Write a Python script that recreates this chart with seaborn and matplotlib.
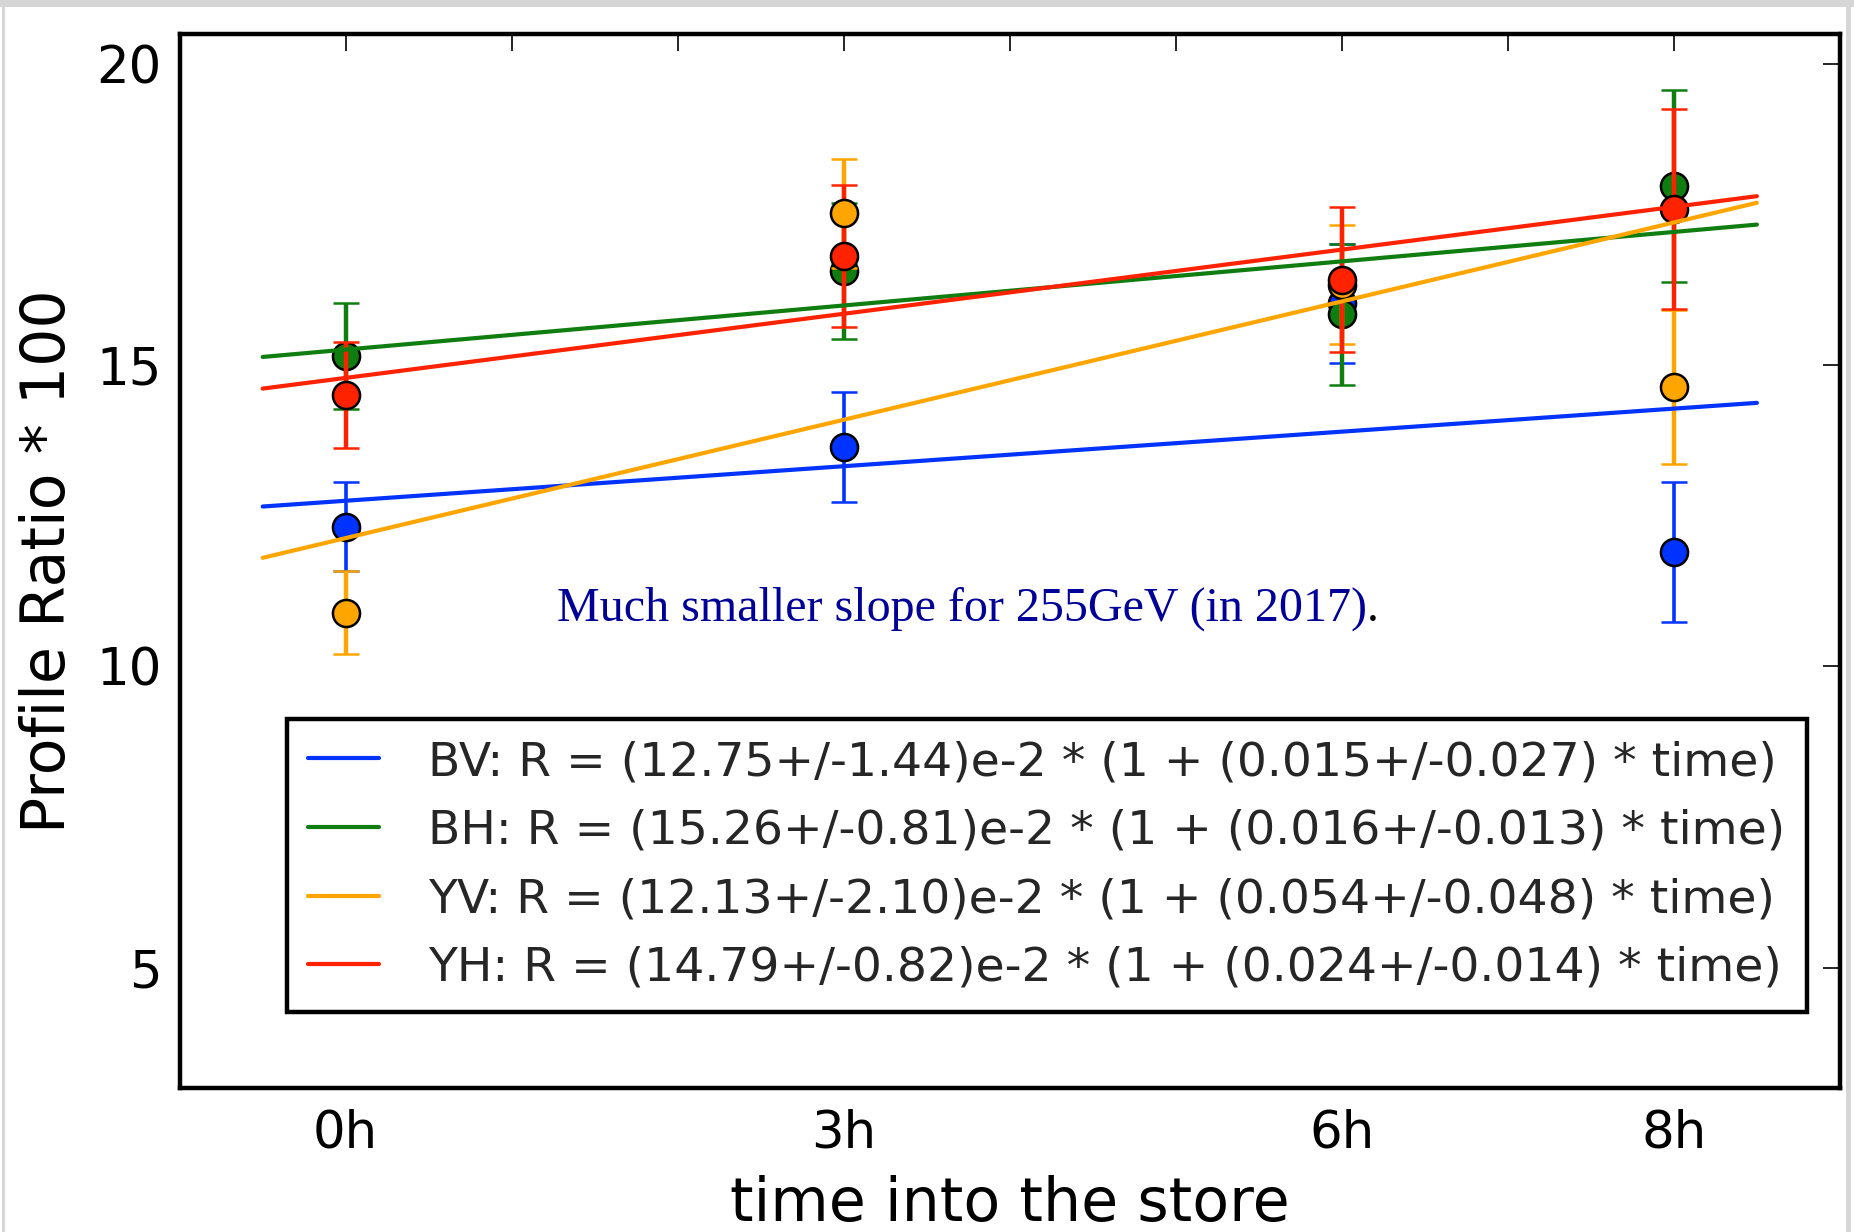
import numpy as np
import pandas as pd
import matplotlib
matplotlib.use('Agg')
import matplotlib.pyplot as plt
import seaborn as sns
from matplotlib.patches import Rectangle
from matplotlib.lines import Line2D

# ---------------- data ----------------
series = ['BV', 'BH', 'YV', 'YH']
times = [0, 3, 6, 8]
bv_vals = [12.32, 13.64, 16.03, 11.90]
bv_errs = [0.74, 0.91, 0.99, 1.16]
bh_vals = [15.16, 16.57, 15.85, 17.98]
bh_errs = [0.88, 1.13, 1.17, 1.59]
yv_vals = [10.89, 17.52, 16.34, 14.64]
yv_errs = [0.69, 0.91, 0.99, 1.28]
yh_vals = [14.51, 16.82, 16.42, 17.59]
yh_errs = [0.88, 1.18, 1.20, 1.66]

# fit parameters from the legend: R = a * (1 + b * time)
fit_a = [12.75, 15.26, 12.13, 14.79]
fit_b = [0.015, 0.016, 0.054, 0.024]
fit_range = [-0.5, 8.5]

legend_labels = [
    'BV: R = (12.75+/-1.44)e-2 * (1 + (0.015+/-0.027) * time)',
    'BH: R = (15.26+/-0.81)e-2 * (1 + (0.016+/-0.013) * time)',
    'YV: R = (12.13+/-2.10)e-2 * (1 + (0.054+/-0.048) * time)',
    'YH: R = (14.79+/-0.82)e-2 * (1 + (0.024+/-0.014) * time)',
]
xtick_positions = [0, 1, 2, 3, 4, 5, 6, 7, 8]
xtick_labels = ['0h', '', '', '3h', '', '', '6h', '', '8h']
ytick_values = [5, 10, 15, 20]
note_text = 'Much smaller slope for 255GeV (in 2017)'

vals = [bv_vals, bh_vals, yv_vals, yh_vals]
errs = [bv_errs, bh_errs, yv_errs, yh_errs]

# ---------------- style ----------------
sns.set_theme(style='white')
plt.rcParams['font.family'] = ['DejaVu Sans']
colors = ['#0033ff', '#0f7d0f', '#ffa500', '#ff2200']
elw = [2.6, 3.2, 3.2, 3.2]
capt = [2.2, 4.6, 4.6, 4.6]

fig = plt.figure(figsize=(18.54, 12.32), dpi=100)
fig.patch.set_facecolor('white')
ax = fig.add_axes([0.0969, 0.1169, 0.8955, 0.8555])
ax.set_facecolor('white')

# error bars with markers
for i, name in enumerate(series):
    ax.errorbar(times, vals[i], yerr=errs[i], fmt='o', color=colors[i],
                ecolor=colors[i], elinewidth=elw[i], capsize=9.5,
                capthick=capt[i], markersize=19.5, markeredgecolor='black',
                markeredgewidth=1.8, zorder=2 + i * 0.1)

# fit lines
rows = []
for i, name in enumerate(series):
    for t in fit_range:
        rows.append({'series': legend_labels[i], 't': t,
                     'R': fit_a[i] * (1 + fit_b[i] * t)})
fit_df = pd.DataFrame(rows)
sns.lineplot(data=fit_df, x='t', y='R', hue='series',
             palette=dict(zip(legend_labels, colors)), linewidth=3.0,
             ax=ax, zorder=3, legend=False)

# axes
ax.set_xlim(-1, 9)
ax.set_ylim(3, 20.5)
ax.set_xticks(xtick_positions)
ax.set_xticklabels(xtick_labels)
ax.set_yticks(ytick_values)
ax.tick_params(axis='both', which='major', direction='in', length=12,
               width=1.2, color='black', labelsize=37, top=True, right=True,
               labelcolor='black')
ax.tick_params(axis='x', pad=15)
ax.tick_params(axis='y', pad=13)
for sp in ax.spines.values():
    sp.set_visible(True)
    sp.set_color('black')
    sp.set_linewidth(3.2)
ax.grid(False)
ax.set_xlabel('time into the store', fontsize=43.3, color='black', labelpad=12)
ax.set_ylabel('Profile Ratio * 100', fontsize=43.3, color='black', labelpad=13)

# legend
handles = [Line2D([0], [0], color=c, linewidth=3.0) for c in colors]
leg = ax.legend(handles, legend_labels, loc='lower right',
                bbox_to_anchor=(0.980, 0.072), borderaxespad=0,
                fontsize=34, frameon=True, fancybox=False, framealpha=1,
                edgecolor='black', handlelength=1.5, handletextpad=1.05,
                labelspacing=0.5, borderpad=0.45)
leg.get_frame().set_linewidth(3.2)

# note text
t = ax.text(1.27, 10.95, note_text, fontsize=34.6, color='#000099',
            family='Liberation Serif', ha='left', va='center', zorder=5)
ax.annotate('.', xy=(1, 0), xycoords=t, ha='left', va='bottom',
            fontsize=34.6, color='black', family='Liberation Serif')

# slide frame
fig.add_artist(Rectangle((0, 1 - 7 / 1232), 1, 7 / 1232, transform=fig.transFigure,
                         color='#d6d6d6', lw=0))
fig.add_artist(Rectangle((2 / 1854, 0), 3 / 1854, 1, transform=fig.transFigure,
                         color='#d6d6d6', lw=0))
fig.add_artist(Rectangle((1846 / 1854, 0), 5 / 1854, 1, transform=fig.transFigure,
                         color='#d6d6d6', lw=0))

fig.savefig('out.png', dpi=100, facecolor='white')
